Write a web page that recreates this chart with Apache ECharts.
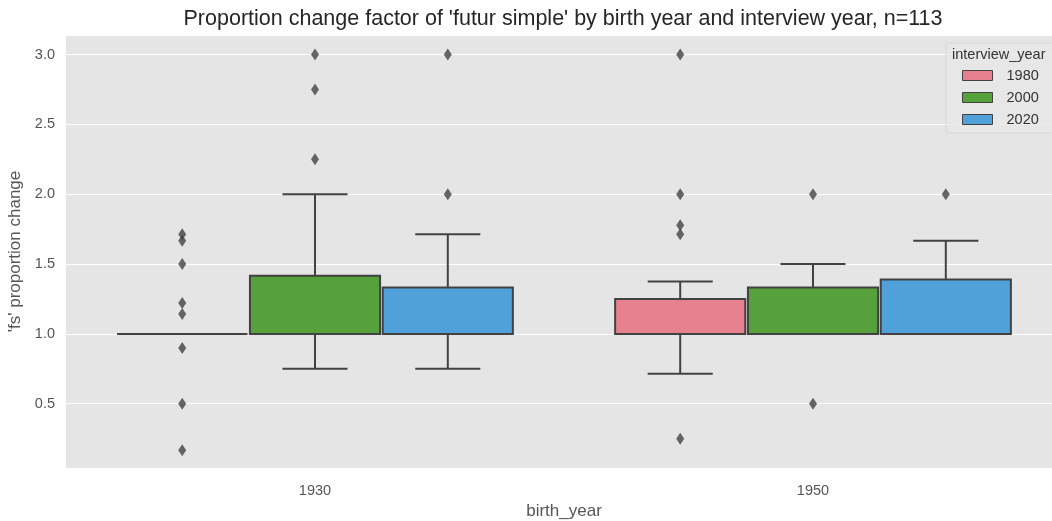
<!DOCTYPE html>
<html>
<head>
<meta charset="utf-8">
<script src="https://cdn.jsdelivr.net/npm/echarts@6/dist/echarts.min.js"></script>
<style>
  html, body { margin: 0; padding: 0; background: #ffffff; }
  #chart { width: 1052px; height: 521px; }
</style>
</head>
<body>
<div id="chart"></div>
<script>
// Categories
const birthYears = ['1930', '1950'];
const interviewYears = ['1980', '2000', '2020'];

// Box summaries, one row per birth year: [lower whisker, Q1, median, Q3, upper whisker]
const stats1980 = [[1.0, 1.0, 1.0, 1.0, 1.0], [0.714, 1.0, 1.0, 1.25, 1.375]];
const stats2000 = [[0.75, 1.0, 1.0, 1.417, 2.0], [1.0, 1.0, 1.0, 1.333, 1.5]];
const stats2020 = [[0.75, 1.0, 1.0, 1.333, 1.714], [1.0, 1.0, 1.0, 1.389, 1.667]];

// Outliers, one list per birth year
const fliers1980 = [[0.167, 0.5, 0.9, 1.143, 1.222, 1.5, 1.667, 1.714], [0.25, 1.714, 1.778, 2.0, 3.0]];
const fliers2000 = [[2.25, 2.75, 3.0], [0.5, 2.0]];
const fliers2020 = [[2.0, 3.0], [2.0]];

// Y tick labels
const yTicks = [0.5, 1.0, 1.5, 2.0, 2.5, 3.0];

const statsByYear = [stats1980, stats2000, stats2020];
const fliersByYear = [fliers1980, fliers2000, fliers2020];
const hueColors = ['#e8818f', '#57a13d', '#50a0d9'];
const lineColor = '#424242';
const FONT = 'Liberation Sans, Arial, sans-serif';

// dodge layout: groups take 0.8 of a category, boxes shrink slightly
const GROUP_W = 0.8;
const HUE_W = GROUP_W / interviewYears.length;
const BOX_W = HUE_W * 0.98;

function hueX(catIdx, hueIdx) {
  return catIdx + (hueIdx - (interviewYears.length - 1) / 2) * HUE_W;
}

function renderBox(params, api) {
  const x = api.value(0);
  const lo = api.coord([x, api.value(1)]);
  const q1 = api.coord([x, api.value(2)]);
  const med = api.coord([x, api.value(3)]);
  const q3 = api.coord([x, api.value(4)]);
  const hi = api.coord([x, api.value(5)]);
  const w = api.size([BOX_W, 0])[0];
  const cap = w / 4;
  const cx = lo[0];
  const stroke = { stroke: lineColor, lineWidth: 2, fill: null };
  const fill = hueColors[params.seriesIndex];
  return {
    type: 'group',
    children: [
      { type: 'line', shape: { x1: cx, y1: q3[1], x2: cx, y2: hi[1] }, style: stroke },
      { type: 'line', shape: { x1: cx, y1: q1[1], x2: cx, y2: lo[1] }, style: stroke },
      { type: 'line', shape: { x1: cx - cap, y1: hi[1], x2: cx + cap, y2: hi[1] }, style: stroke },
      { type: 'line', shape: { x1: cx - cap, y1: lo[1], x2: cx + cap, y2: lo[1] }, style: stroke },
      { type: 'rect', shape: { x: cx - w / 2, y: q3[1], width: w, height: q1[1] - q3[1] },
        style: { fill: fill, stroke: lineColor, lineWidth: 2 } },
      { type: 'line', shape: { x1: cx - w / 2, y1: med[1], x2: cx + w / 2, y2: med[1] }, style: stroke }
    ]
  };
}

const boxSeries = interviewYears.map((name, h) => ({
  type: 'custom',
  name: name,
  xAxisIndex: 1,
  itemStyle: { color: hueColors[h] },
  renderItem: renderBox,
  encode: { x: 0, y: [1, 2, 3, 4, 5] },
  data: statsByYear[h].map((s, c) => [hueX(c, h)].concat(s)),
  z: 3
}));

const flierSeries = interviewYears.map((name, h) => {
  const pts = [];
  fliersByYear[h].forEach((list, c) => list.forEach(v => pts.push([hueX(c, h), v])));
  return {
    type: 'scatter',
    name: name,
    xAxisIndex: 1,
    symbol: 'diamond',
    symbolSize: [8, 12],
    itemStyle: { color: lineColor },
    data: pts,
    z: 4
  };
});

const chart = echarts.init(document.getElementById('chart'), null, { renderer: 'canvas' });
chart.setOption({
  animation: false,
  backgroundColor: '#ffffff',
  textStyle: { fontFamily: FONT },
  graphic: [
    {
      type: 'text', x: 563, y: 19,
      style: {
        text: "Proportion change factor of 'futur simple' by birth year and interview year, n=113",
        fontSize: 21.5, fill: '#262626', align: 'center', verticalAlign: 'middle',
        fontFamily: FONT
      },
      z: 10
    },
    {
      type: 'text', x: 952, y: 55,
      style: {
        text: 'interview_year', fontSize: 14.5, fill: '#333333',
        align: 'left', verticalAlign: 'middle',
        fontFamily: FONT
      },
      z: 10
    }
  ],
  legend: {
    left: 946, top: 43,
    orient: 'vertical',
    padding: [25, 16, 6, 16],
    itemWidth: 30, itemHeight: 10, itemGap: 7,
    backgroundColor: 'rgba(232,232,232,0.85)',
    borderColor: '#d6d6d6', borderWidth: 1, borderRadius: 3,
    textStyle: { fontSize: 14.5, color: '#333333', lineHeight: 14, padding: [0, 0, 0, 9] },
    selectedMode: false,
    data: interviewYears.map((n, h) => ({
      name: n, icon: 'rect',
      itemStyle: { color: hueColors[h], borderColor: lineColor, borderWidth: 1 }
    }))
  },
  grid: {
    left: 66, top: 35, right: -10, bottom: 53,
    outerBoundsMode: 'none', containLabel: false,
    backgroundColor: '#e5e5e5', show: true, borderWidth: 0
  },
  xAxis: [
    {
      type: 'category',
      data: birthYears,
      boundaryGap: true,
      name: 'birth_year',
      nameLocation: 'middle',
      nameGap: 32,
      nameTextStyle: { fontSize: 17, color: '#555555' },
      axisLine: { show: false },
      axisTick: { show: false },
      axisLabel: { fontSize: 14.5, color: '#555555', margin: 15 },
      splitLine: { show: false }
    },
    {
      type: 'value',
      min: -0.5, max: 1.5,
      show: false,
      splitLine: { show: false }
    }
  ],
  yAxis: {
    type: 'value',
    min: 0.04, max: 3.14,
    splitNumber: 6,
    name: "'fs' proportion change",
    nameLocation: 'middle',
    nameGap: 40,
    nameTextStyle: { fontSize: 17, color: '#555555' },
    axisLine: { show: false },
    axisTick: { show: false },
    axisLabel: {
      fontSize: 14.5, color: '#555555', margin: 11,
      showMinLabel: false, showMaxLabel: false,
      formatter: v => (yTicks.indexOf(Math.round(v * 10) / 10) >= 0 ? v.toFixed(1) : '')
    },
    splitLine: { show: true, lineStyle: { color: '#ffffff', width: 1.2 } }
  },
  series: boxSeries.concat(flierSeries)
});
</script>
</body>
</html>
